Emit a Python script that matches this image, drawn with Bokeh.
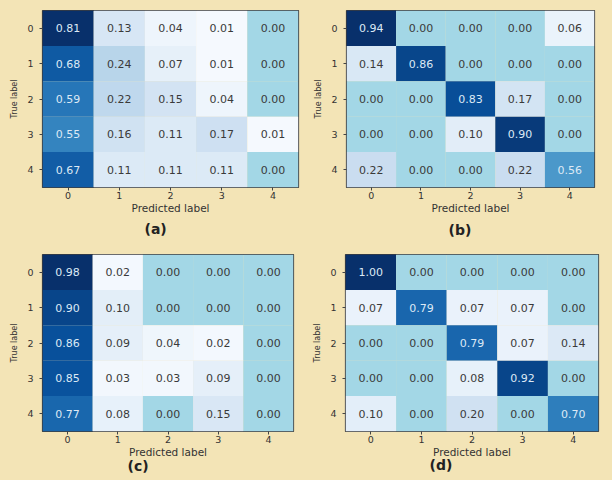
from bokeh.plotting import figure
from bokeh.layouts import column, row
from bokeh.models import ColumnDataSource, LinearColorMapper, FixedTicker, Range1d, Title
from bokeh.palettes import Blues256
from bokeh.transform import transform
from bokeh.core.properties import value
from bokeh.embed import file_html
from bokeh.resources import INLINE

classes = [0, 1, 2, 3, 4]
tick_labels = ["0", "1", "2", "3", "4"]

cm_a = [[0.81, 0.13, 0.04, 0.01, 0.00],
        [0.68, 0.24, 0.07, 0.01, 0.00],
        [0.59, 0.22, 0.15, 0.04, 0.00],
        [0.55, 0.16, 0.11, 0.17, 0.01],
        [0.67, 0.11, 0.11, 0.11, 0.00]]
cm_b = [[0.94, 0.00, 0.00, 0.00, 0.06],
        [0.14, 0.86, 0.00, 0.00, 0.00],
        [0.00, 0.00, 0.83, 0.17, 0.00],
        [0.00, 0.00, 0.10, 0.90, 0.00],
        [0.22, 0.00, 0.00, 0.22, 0.56]]
cm_c = [[0.98, 0.02, 0.00, 0.00, 0.00],
        [0.90, 0.10, 0.00, 0.00, 0.00],
        [0.86, 0.09, 0.04, 0.02, 0.00],
        [0.85, 0.03, 0.03, 0.09, 0.00],
        [0.77, 0.08, 0.00, 0.15, 0.00]]
cm_d = [[1.00, 0.00, 0.00, 0.00, 0.00],
        [0.07, 0.79, 0.07, 0.07, 0.00],
        [0.00, 0.00, 0.79, 0.07, 0.14],
        [0.00, 0.00, 0.08, 0.92, 0.00],
        [0.10, 0.00, 0.20, 0.00, 0.70]]
panel_names = ["(a)", "(b)", "(c)", "(d)"]

BG = "#f3e4b6"
ZERO = "#a3d7e6"
FONT = "DejaVu Sans"

FIG_W, FIG_H = 306, 240
# geometry per panel: (left, top, frame_w, frame_h, title_offset, title_standoff)
geom = [(42, 10, 256, 179, 102, 4),
        (40, 10, 248, 179, 102, 6),
        (42, 14, 251, 177, 85, -10),
        (39, 14, 253, 177, 84, -12)]


def make_panel(cm, name, g):
    left, top, fw, fh, toff, tstand = g
    xs, ys, vals, txt = [], [], [], []
    for i, r in enumerate(cm):
        for j, v in enumerate(r):
            xs.append(classes[j])
            ys.append(classes[i])
            vals.append(v)
            txt.append("%.2f" % v)
    src = ColumnDataSource(dict(x=xs, y=ys, v=vals, t=txt))
    vmax = max(vals)
    cmap = LinearColorMapper(palette=list(Blues256[::-1]), low=1e-6, high=vmax, low_color=ZERO)
    tmap = LinearColorMapper(palette=["#3a3a3a", "#dde9f5"], low=0, high=vmax)

    p = figure(width=FIG_W, height=FIG_H, output_backend="svg", toolbar_location=None,
               x_range=Range1d(-0.5, 4.5), y_range=Range1d(4.5, -0.5),
               min_border_left=left, min_border_top=top,
               min_border_right=FIG_W - left - fw, min_border_bottom=FIG_H - top - fh,
               background_fill_color=BG, border_fill_color=BG,
               outline_line_color="#3c3c3c", outline_line_width=1.2)
    p.grid.visible = False
    p.rect("x", "y", width=1, height=1, source=src,
           fill_color=transform("v", cmap), line_color=None)
    p.text("x", "y", text="t", source=src, text_align="center", text_baseline="middle",
           text_font=value(FONT), text_font_size="11px",
           text_color=transform("v", tmap))

    for ax in (p.xaxis[0], p.yaxis[0]):
        ax.ticker = FixedTicker(ticks=classes)
        ax.major_label_overrides = {c: l for c, l in zip(classes, tick_labels)}
        ax.minor_tick_line_color = None
        ax.major_tick_in = 0
        ax.major_tick_out = 3
        ax.major_tick_line_color = "#444444"
        ax.axis_line_color = None
        ax.major_label_text_font = FONT
        ax.major_label_text_font_size = "9.5px"
        ax.major_label_text_color = "#333333"
        ax.axis_label_text_font = FONT
        ax.axis_label_text_font_style = "normal"
        ax.axis_label_text_color = "#333333"
    p.xaxis.axis_label = "Predicted label"
    p.xaxis.axis_label_text_font_size = "10.5px"
    p.xaxis.major_label_standoff = 1
    p.xaxis.axis_label_standoff = 0
    p.yaxis.axis_label = "True label"
    p.yaxis.axis_label_text_font_size = "8px"
    p.yaxis.major_label_standoff = 6
    p.yaxis.axis_label_standoff = 5
    p.yaxis.major_label_orientation = "horizontal"

    t = Title(text=name, align="left", offset=toff, standoff=tstand,
              text_font=FONT, text_font_size="14px", text_font_style="bold",
              text_color="#222222")
    p.add_layout(t, "below")
    return p


figs = [make_panel(cm, n, g) for cm, n, g in zip([cm_a, cm_b, cm_c, cm_d], panel_names, geom)]
layout = column(row(figs[0], figs[1], spacing=0, styles={"background-color": BG}),
                row(figs[2], figs[3], spacing=0, styles={"background-color": BG}),
                spacing=0, styles={"background-color": BG})

open("out.html", "w").write(file_html(layout, INLINE))
